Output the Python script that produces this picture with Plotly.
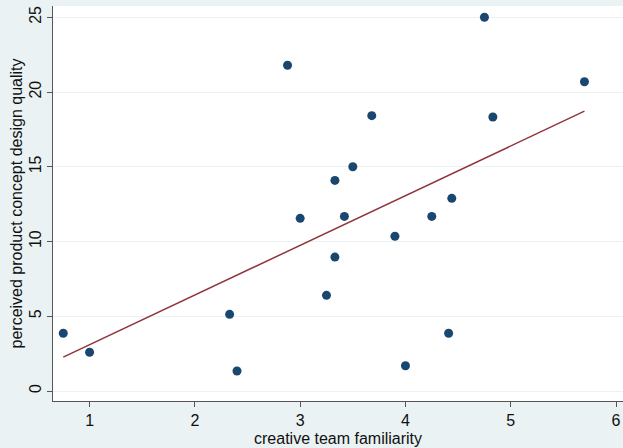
import numpy as np
import plotly.graph_objects as go

familiarity = [0.75, 1.0, 2.33, 2.40, 2.88, 3.0, 3.25, 3.33, 3.33, 3.42,
               3.50, 3.68, 3.90, 4.0, 4.25, 4.41, 4.44, 4.75, 4.83, 5.70]
quality = [3.86, 2.59, 5.13, 1.34, 21.79, 11.55, 6.40, 14.09, 8.96, 11.68,
           15.0, 18.42, 10.35, 1.69, 11.68, 3.86, 12.89, 25.0, 18.33, 20.69]
x_ticks = [1, 2, 3, 4, 5, 6]
y_ticks = [0, 5, 10, 15, 20, 25]
x_title = "creative team familiarity"
y_title = "perceived product concept design quality"

slope, intercept = np.polyfit(familiarity, quality, 1)
fx = np.array([min(familiarity), max(familiarity)])
fy = intercept + slope * fx

NAVY = "#1a476f"
MAROON = "#90353b"
BG = "#eaf2f3"
FONT = "Liberation Sans, Arial, Helvetica, sans-serif"

fig = go.Figure()
fig.add_trace(go.Scatter(x=familiarity, y=quality, mode="markers",
                         marker=dict(color=NAVY, size=9, line=dict(width=0)),
                         showlegend=False))
fig.add_trace(go.Scatter(x=fx, y=fy, mode="lines",
                         line=dict(color=MAROON, width=1.5),
                         showlegend=False))

fig.update_layout(
    width=623, height=448,
    margin=dict(l=53, r=0, t=6, b=47),
    paper_bgcolor=BG, plot_bgcolor="white",
    font=dict(family=FONT, size=16, color="#111111"),
    hovermode=False,
    xaxis=dict(range=[0.6526, 6.066], tickvals=x_ticks, showgrid=False,
               zeroline=False, showline=True, linecolor="#555555", linewidth=1,
               ticks="outside", ticklen=5, tickcolor="#555555", tickwidth=1,
               tickfont=dict(size=16), automargin=False,
               ticklabeloverflow="allow"),
    yaxis=dict(range=[-0.669, 25.756], tickvals=y_ticks, showgrid=True,
               gridcolor=BG, gridwidth=1,
               zeroline=False, showline=True, linecolor="#555555", linewidth=1,
               ticks="outside", ticklen=5, tickcolor="#555555", tickwidth=1,
               tickangle=-90, tickfont=dict(size=16), automargin=False,
               ticklabeloverflow="allow"),
    annotations=[
        dict(text=x_title, xref="paper", yref="paper", x=0.5, y=-0.0937,
             xanchor="center", yanchor="middle", showarrow=False,
             font=dict(size=16)),
        dict(text=y_title, xref="paper", yref="paper", x=-0.0632, y=0.5,
             xanchor="center", yanchor="middle", showarrow=False,
             textangle=-90, font=dict(size=16)),
    ],
)

# remove the browser's default 8px body margin so the figure fills the window
fig.write_html("out.html",
               config={"displayModeBar": False, "staticPlot": True},
               post_script="document.body.style.margin='0';"
                           "document.body.style.overflow='hidden';")
